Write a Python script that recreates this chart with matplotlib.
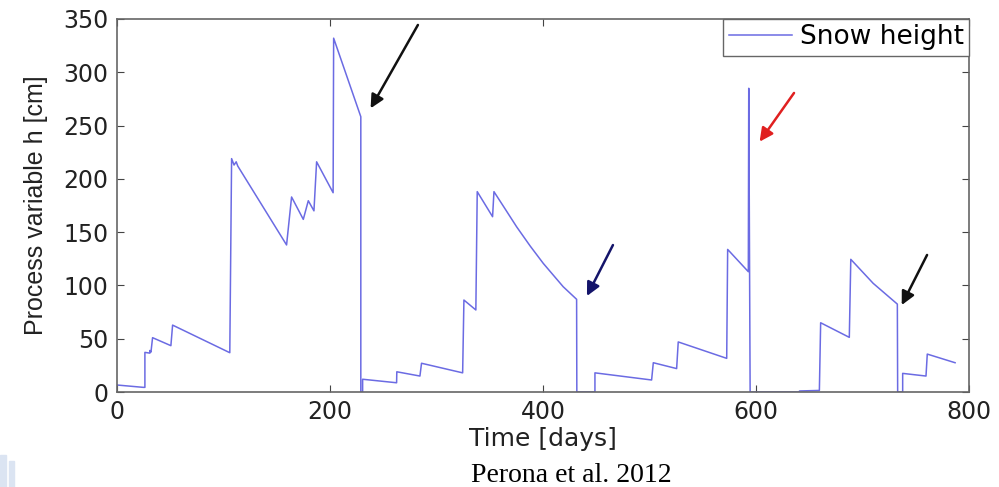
import matplotlib
matplotlib.use("Agg")
import matplotlib.pyplot as plt
from matplotlib.patches import Rectangle

####### Datos #######

# tiempo [dias] y altura de nieve [cm]
time_days = [0, 24.7, 26.3, 26.3, 31, 31, 32, 33.5, 50.7, 52.3, 106, 107.7,
             110, 112, 113.5, 159.3, 164, 175, 179.7, 185, 187.5, 203, 203.5,
             229, 229, 230.7, 230.7, 262.6, 262.8, 284.5, 286, 324.6, 325.8,
             337, 338.3, 352.7, 354, 365, 375.3, 388, 400.3, 419, 431.6, 431.8,
             448.8, 448.8, 502, 503.6, 525.5, 527, 572.5, 573.4, 592.8, 593.2,
             594.5, 640, 641, 659.5, 660.7, 687.6, 689, 710, 732.7, 733,
             737.7, 737.7, 759.6, 760.8, 786.9]
snow_cm = [6.6, 4.4, 4.4, 37.2, 36.5, 39, 37.5, 51, 43.5, 62.8, 36.9, 219,
           213, 216, 212, 138, 183, 162, 179.5, 170, 216, 187, 332,
           258.3, 0, 0, 12, 8.7, 19, 15, 27, 18, 86.3,
           77, 188, 164.5, 188, 171, 155, 137, 120.7, 98.8, 87, 0,
           0, 18, 11.3, 27.5, 22, 47, 31.6, 133.8, 112.9, 285,
           0, 0, 1, 1.5, 65, 51.3, 124.5, 102, 82.5, 0,
           0, 17.5, 15, 35.6, 27.5]

LEGEND_LABEL = "Snow height"
XLABEL = "Time [days]"
YLABEL = "Process variable h [cm]"
CAPTION = "Perona et al. 2012"

XTICKS = [0, 200, 400, 600, 800]
YTICKS = [0, 50, 100, 150, 200, 250, 300, 350]

# flechas de anotacion: (cola x, cola y, punta x, punta y, color)
arrows = [
    (282.6, 344.4, 238.2, 266.2, "#111111"),
    (465.7, 137.9, 441.3, 90.1, "#14146a"),
    (635.7, 280.6, 603.4, 234.9, "#e02020"),
    (760.6, 128.6, 736.8, 81.6, "#111111"),
]

LINE_COLOR = "#6b6be3"
DPI = 100
FIGURE_WIDTH = 9.99
FIGURE_HEIGHT = 4.87

########## Grafico ############

plt.rcParams['font.family'] = ['DejaVu Sans']

fig = plt.figure(figsize=(FIGURE_WIDTH, FIGURE_HEIGHT), dpi=DPI)
ax = fig.add_axes([0.117, 0.195, 0.853, 0.766])

ax.plot(time_days, snow_cm, color=LINE_COLOR, linewidth=1.1, label=LEGEND_LABEL)

for tx, ty, hx, hy, c in arrows:
    ax.annotate("", xy=(hx, hy), xytext=(tx, ty),
                arrowprops=dict(arrowstyle="-|>", color=c, lw=1.8,
                                mutation_scale=20, shrinkA=0, shrinkB=0))

ax.set_xlim(0, 800)
ax.set_ylim(0, 350)
ax.set_xticks(XTICKS)
ax.set_yticks(YTICKS)
ax.tick_params(direction="in", length=5, top=True, right=True,
               labelsize=17, pad=6, colors="#444444", labelcolor="#222222")
for s in ax.spines.values():
    s.set_color("#666666")
    s.set_linewidth(1.2)

ax.set_xlabel(XLABEL, fontsize=18, color="#222222", labelpad=2)
ax.set_ylabel(YLABEL, fontsize=18, family="Liberation Sans", color="#222222",
              labelpad=11)

leg = ax.legend(loc="upper right", fontsize=19, fancybox=False,
                borderaxespad=0, borderpad=0.2, handlelength=2.4,
                handletextpad=0.3, framealpha=1)
leg.get_frame().set_edgecolor("#666666")
leg.get_frame().set_linewidth(1.0)

fig.text(571 / 999, 5 / 487, CAPTION, family="Liberation Serif",
         fontsize=20, ha="center", va="baseline", color="black")

# barras decorativas abajo a la izquierda
fig.patches.append(Rectangle((0, 0), 6 / 999, 32 / 487, transform=fig.transFigure,
                             color="#dbe4f2", zorder=0))
fig.patches.append(Rectangle((9 / 999, 0), 5 / 999, 26 / 487, transform=fig.transFigure,
                             color="#dbe4f2", zorder=0))

fig.savefig("out.png", dpi=DPI)
